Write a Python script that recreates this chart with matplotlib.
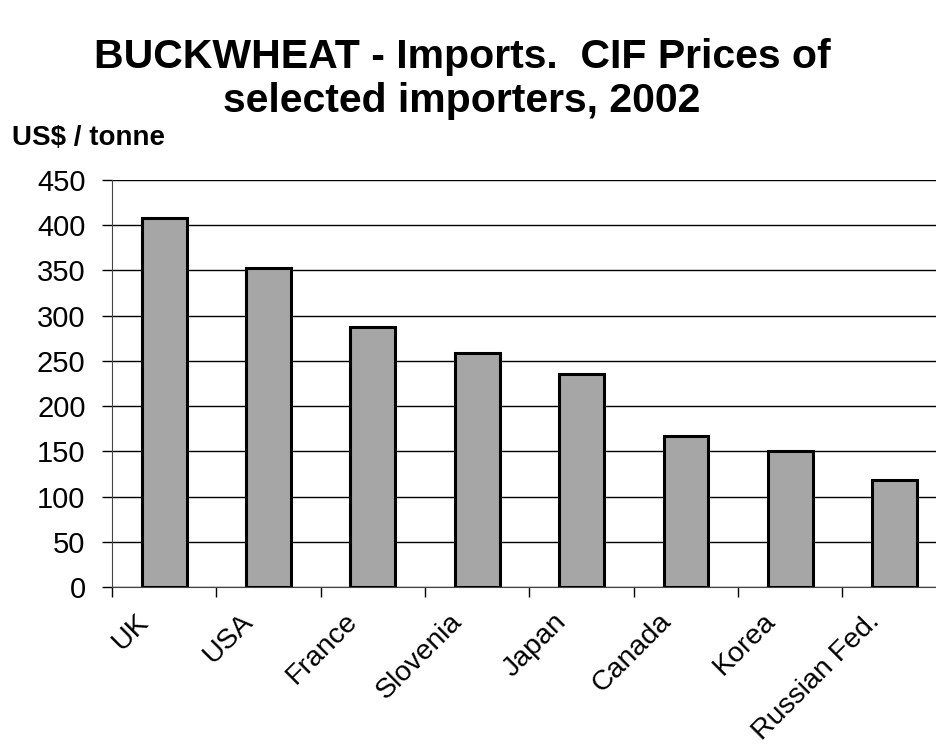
import matplotlib.pyplot as plt
import matplotlib.transforms as mtransforms
from matplotlib.ticker import FixedLocator, NullFormatter

plt.rcParams['font.family'] = ['Liberation Sans', 'DejaVu Sans']

countries = ['UK', 'USA', 'France', 'Slovenia', 'Japan', 'Canada', 'Korea', 'Russian Fed.']
prices = [408, 353, 288, 259, 236, 167, 150, 118]
yticks = [0, 50, 100, 150, 200, 250, 300, 350, 400, 450]

fig = plt.figure(figsize=(9.37, 7.45), dpi=100)
ax = fig.add_axes([0.1195, 0.2121, 0.891, 0.5463])

x = list(range(len(countries)))
ax.bar(x, prices, width=0.43, color='#a6a6a6', edgecolor='black', linewidth=2.2, zorder=3)

ax.set_xlim(-0.5, len(countries) - 0.5)
ax.set_ylim(0, 450)
ax.set_yticks(yticks)
ax.yaxis.grid(True, color='black', linewidth=1, zorder=0)
ax.tick_params(axis='y', labelsize=21, length=7, width=1, direction='out', pad=12)

# ticks sit between categories, labels at centres
ax.xaxis.set_major_locator(FixedLocator([i - 0.5 for i in range(len(countries) + 1)]))
ax.xaxis.set_major_formatter(NullFormatter())
ax.xaxis.set_minor_locator(FixedLocator(x))
ax.set_xticklabels(countries, minor=True, rotation=45, ha='right', va='center',
                   rotation_mode='anchor', fontsize=20.5)
ax.tick_params(axis='x', which='major', length=7, width=1)
ax.tick_params(axis='x', which='minor', length=0, pad=22)
shift = mtransforms.ScaledTranslation(-19 / 100, 0, fig.dpi_scale_trans)
for lbl in ax.get_xticklabels(minor=True):
    lbl.set_transform(lbl.get_transform() + shift)

for s in ['top', 'right']:
    ax.spines[s].set_visible(False)
ax.spines['left'].set_color('#444444')
ax.spines['bottom'].set_color('#444444')

fig.text(0.493, 0.924, 'BUCKWHEAT - Imports.  CIF Prices of',
         ha='center', va='center', fontsize=29.5, fontweight='bold')
fig.text(0.493, 0.864, 'selected importers, 2002',
         ha='center', va='center', fontsize=29.5, fontweight='bold')
fig.text(0.013, 0.815, 'US$ / tonne', fontsize=20, fontweight='bold', va='center')

fig.savefig('out.png', dpi=100)
